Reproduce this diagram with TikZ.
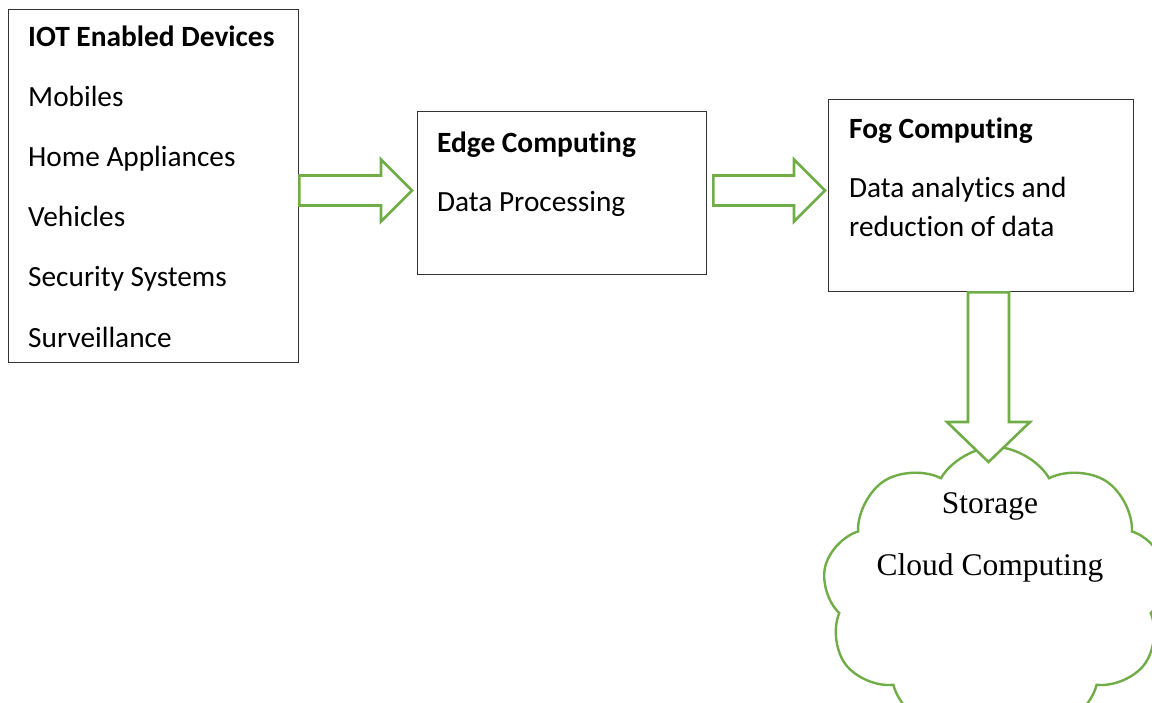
\documentclass[tikz,border=0pt]{standalone}
\usepackage{fontspec}
\setmainfont{Carlito}[Ligatures=NoCommon]
\newfontfamily\cloudfont{Liberation Serif}
\usetikzlibrary{calc}
\usetikzlibrary{shapes.symbols}

\begin{document}
\begin{tikzpicture}[
      x=1pt, y=-1pt,
      box/.style={rectangle, draw=black!80, line width=1.3pt, inner sep=0pt, anchor=north west},
      title/.style={anchor=base west, inner sep=0pt, font=\fontsize{29.4}{34}\selectfont\bfseries},
      item/.style={anchor=base west, inner sep=0pt, font=\fontsize{29.3}{34}\selectfont},
      blockarrow/.style={draw=officegreen, line width=2.6pt, line join=miter, fill=white},
      cloudtext/.style={anchor=base, inner sep=0pt, font=\cloudfont\fontsize{31.5}{38}\selectfont}
    ]
    \definecolor{officegreen}{RGB}{112,173,71}
    \useasboundingbox (0,0) rectangle (1152,702);
    \clip (0,0) rectangle (1152,702);

    % Boxes
    \node[box, minimum width=290, minimum height=353] (iot) at (8,9) {};
    \node[box, minimum width=289, minimum height=163] (edge) at (417,111) {};
    \node[box, minimum width=305, minimum height=192] (fog) at (828,99) {};

    \node[title] (iottitle) at ($(iot.north west)+(20,37)$) {IOT Enabled Devices};
    \foreach \t [count=\i] in {Mobiles, Home Appliances, Vehicles, Security Systems, Surveillance}
      \node[item] (dev\i) at ($(iot.north west)+(20,37+60.2*\i)$) {\t};

    \node[title] (edgetitle) at ($(edge.north west)+(20,41)$) {Edge Computing};
    \node[item] (edgeitem) at ($(edge.north west)+(20,100)$) {Data Processing};

    \node[title] (fogtitle) at ($(fog.north west)+(21,39)$) {Fog Computing};
    \node[item] (fogitem1) at ($(fog.north west)+(21,98)$) {Data analytics and};
    \node[item] (fogitem2) at ($(fog.north west)+(21,137)$) {reduction of data};

    % Cloud
    \node[cloud, draw=officegreen, line width=2.4pt, cloud puffs=9, cloud puff arc=120,
      aspect=1.2, minimum width=345, minimum height=290, inner sep=0pt] (store) at (995,592) {};
    \node[cloudtext] (storetext) at (990,513) {Storage};
    \node[cloudtext] (cloudcomp) at (990,575) {Cloud Computing};

    % Arrows
    \coordinate (a1) at (iot.east |- 0,190.5);
    \coordinate (t1) at ($(edge.west |- a1)+(-5,0)$);
    \draw[blockarrow] ($(a1)+(0,-15)$) -- ($(t1)+(-31,-15)$) -- ($(t1)+(-31,-31)$) -- (t1)
      -- ($(t1)+(-31,31)$) -- ($(t1)+(-31,15)$) -- ($(a1)+(0,15)$) -- cycle;

    \coordinate (a2) at ($(edge.east |- 0,190.5)+(6,0)$);
    \coordinate (t2) at ($(fog.west |- a2)+(-3,0)$);
    \draw[blockarrow] ($(a2)+(0,-15)$) -- ($(t2)+(-31,-15)$) -- ($(t2)+(-31,-31)$) -- (t2)
      -- ($(t2)+(-31,31)$) -- ($(t2)+(-31,15)$) -- ($(a2)+(0,15)$) -- cycle;

    \coordinate (a3) at (fog.south -| 988.5,0);
    \coordinate (t3) at (988.5,462);
    \draw[blockarrow] ($(a3)+(-20.5,0)$) -- ($(t3)+(-20.5,-40)$) -- ($(t3)+(-41.5,-40)$) -- (t3)
      -- ($(t3)+(41.5,-40)$) -- ($(t3)+(20.5,-40)$) -- ($(a3)+(20.5,0)$) -- cycle;
  \end{tikzpicture}
\end{document}
